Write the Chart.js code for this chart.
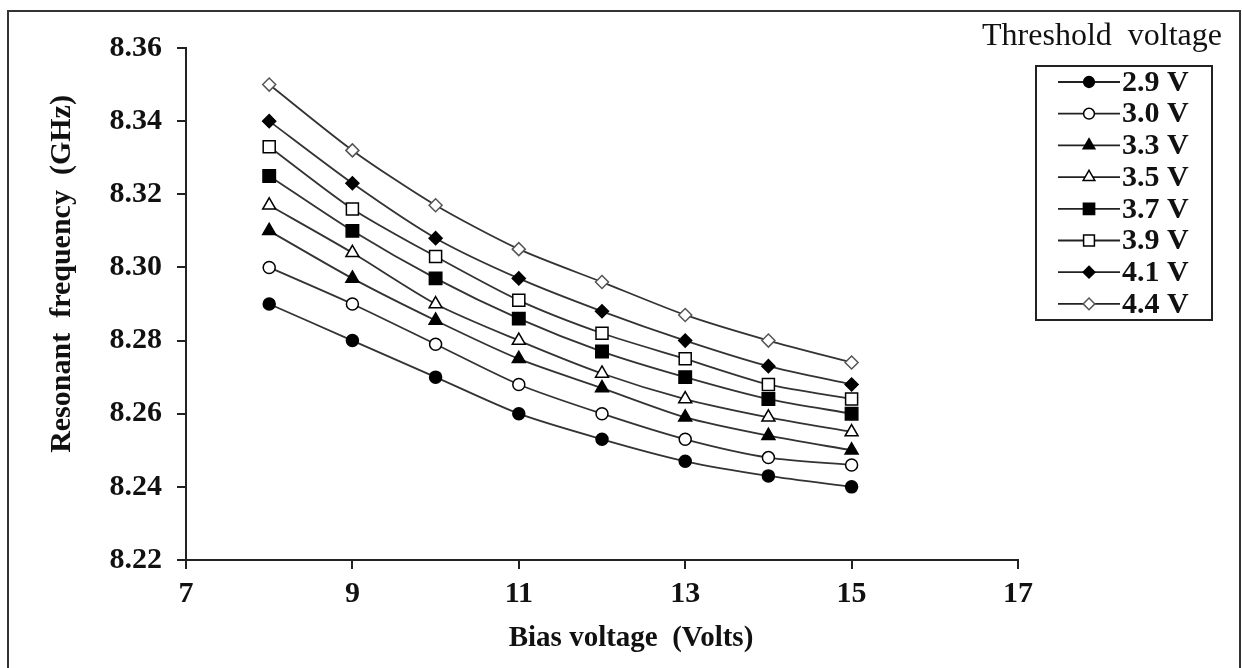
<!DOCTYPE html>
<html>
<head>
<meta charset="utf-8">
<script src="https://cdn.jsdelivr.net/npm/chart.js@4"></script>
<style>
  html, body { margin: 0; padding: 0; background: #fff; }
  #wrap { width: 1242px; height: 668px; }
</style>
</head>
<body>
<div id="wrap"><canvas id="myChart" width="1242" height="668"></canvas></div>
<script>
// bias voltage (x) and resonant frequency (y) per threshold voltage
const biasVoltage = [8, 9, 10, 11, 12, 13, 14, 15];
const thresholdLabels = ['2.9 V', '3.0 V', '3.3 V', '3.5 V', '3.7 V', '3.9 V', '4.1 V', '4.4 V'];
const freq29 = [8.290, 8.280, 8.270, 8.260, 8.253, 8.247, 8.243, 8.240];
const freq30 = [8.300, 8.290, 8.279, 8.268, 8.260, 8.253, 8.248, 8.246];
const freq33 = [8.310, 8.297, 8.2855, 8.275, 8.267, 8.259, 8.254, 8.250];
const freq35 = [8.317, 8.304, 8.290, 8.280, 8.271, 8.264, 8.259, 8.255];
const freq37 = [8.325, 8.310, 8.297, 8.286, 8.277, 8.270, 8.264, 8.260];
const freq39 = [8.333, 8.316, 8.303, 8.291, 8.282, 8.275, 8.268, 8.264];
const freq41 = [8.340, 8.323, 8.308, 8.297, 8.288, 8.280, 8.273, 8.268];
const freq44 = [8.350, 8.332, 8.317, 8.305, 8.296, 8.287, 8.280, 8.274];
const xTicks = [7, 9, 11, 13, 15, 17];
const yTicks = [8.22, 8.24, 8.26, 8.28, 8.30, 8.32, 8.34, 8.36];

const allFreq = [freq29, freq30, freq33, freq35, freq37, freq39, freq41, freq44];
// marker look for each series: [pointStyle, fill, radius, border]
const markers = [
  ['circle', '#000', 6, '#000'],
  ['circle', '#fff', 6, '#000'],
  ['triangle', '#000', 7.5, '#000'],
  ['triangle', '#fff', 7.5, '#000'],
  ['rect', '#000', 8.8, '#000'],
  ['rect', '#fff', 8.5, '#000'],
  ['rectRot', '#000', 6.5, '#000'],
  ['rectRot', '#fff', 6.5, '#555']
];

const FONT = "'Liberation Serif', 'Times New Roman', serif";

const datasets = allFreq.map((vals, i) => ({
  label: thresholdLabels[i],
  data: vals.map((v, j) => ({ x: biasVoltage[j], y: v })),
  borderColor: '#333',
  borderWidth: 1.8,
  tension: 0.25,
  pointStyle: markers[i][0],
  pointBackgroundColor: markers[i][1],
  pointRadius: markers[i][2],
  pointBorderColor: markers[i][3],
  pointBorderWidth: 1.5
}));

function drawMarker(ctx, style, x, y, r) {
  ctx.beginPath();
  if (style === 'circle') {
    ctx.arc(x, y, r, 0, Math.PI * 2);
  } else if (style === 'triangle') {
    ctx.moveTo(x, y - r);
    ctx.lineTo(x + r * 0.866, y + r * 0.5);
    ctx.lineTo(x - r * 0.866, y + r * 0.5);
  } else if (style === 'rect') {
    const s = r * Math.SQRT1_2;
    ctx.rect(x - s, y - s, 2 * s, 2 * s);
  } else {
    ctx.moveTo(x, y - r);
    ctx.lineTo(x + r, y);
    ctx.lineTo(x, y + r);
    ctx.lineTo(x - r, y);
  }
  ctx.closePath();
  ctx.fill();
  ctx.stroke();
}

const framePlugin = {
  id: 'frame',
  beforeDraw(chart) {
    const c = chart.ctx;
    c.save();
    c.fillStyle = '#fff';
    c.fillRect(0, 0, chart.width, chart.height);
    c.strokeStyle = '#333';
    c.lineWidth = 2;
    c.beginPath();
    c.moveTo(8, 668);
    c.lineTo(8, 11);
    c.lineTo(1240, 11);
    c.lineTo(1240, 668);
    c.stroke();
    c.restore();
  }
};

const legendBox = {
  id: 'legendBox',
  afterDraw(chart) {
    const c = chart.ctx;
    c.save();
    c.fillStyle = '#111';
    c.font = '32px ' + FONT;
    c.textAlign = 'right';
    c.textBaseline = 'middle';
    c.fillText('Threshold  voltage', 1222, 37);

    c.strokeStyle = '#222';
    c.lineWidth = 2;
    c.strokeRect(1036, 66, 176, 254);

    c.font = 'bold 30px ' + FONT;
    c.textAlign = 'left';
    chart.data.datasets.forEach((ds, i) => {
      const y = 82 + i * 31.7;
      c.strokeStyle = '#222';
      c.lineWidth = 1.8;
      c.beginPath();
      c.moveTo(1058, y);
      c.lineTo(1120, y);
      c.stroke();
      c.fillStyle = ds.pointBackgroundColor;
      c.strokeStyle = ds.pointBorderColor;
      c.lineWidth = 1.5;
      drawMarker(c, ds.pointStyle, 1089, y, ds.pointRadius * 0.9);
      c.fillStyle = '#111';
      c.fillText(ds.label, 1122, y + 1);
    });
    c.restore();
  }
};

const ctx = document.getElementById('myChart').getContext('2d');
const myChart = new Chart(ctx, {
  type: 'line',
  data: { datasets: datasets },
  options: {
    responsive: false,
    animation: false,
    layout: { padding: { top: 48, right: 224, left: 0, bottom: 0 } },
    plugins: { legend: { display: false }, tooltip: { enabled: false } },
    scales: {
      x: {
        type: 'linear',
        min: 7,
        max: 17,
        afterBuildTicks: (s) => { s.ticks = xTicks.map(v => ({ value: v })); },
        afterFit: (s) => { s.height = 108; s.paddingLeft = 0; s.paddingRight = 0; },
        ticks: { color: '#111', font: { family: FONT, size: 30, weight: 'bold' }, padding: 7 },
        grid: { drawOnChartArea: false, drawTicks: true, tickLength: 9, color: '#222', lineWidth: 2 },
        border: { display: true, color: '#222', width: 2 },
        title: {
          display: true,
          text: '        Bias voltage  (Volts)',
          color: '#111',
          font: { family: FONT, size: 29, weight: 'bold' },
          padding: { top: 0, bottom: 12 }
        }
      },
      y: {
        type: 'linear',
        min: 8.22,
        max: 8.36,
        afterBuildTicks: (s) => { s.ticks = yTicks.map(v => ({ value: v })); },
        afterFit: (s) => { s.width = 186; s.paddingTop = 0; s.paddingBottom = 0; },
        ticks: {
          color: '#111',
          font: { family: FONT, size: 30, weight: 'bold' },
          padding: 15,
          callback: (v) => Number(v).toFixed(2)
        },
        grid: { drawOnChartArea: false, drawTicks: true, tickLength: 9, color: '#222', lineWidth: 2 },
        border: { display: true, color: '#222', width: 2 },
        title: {
          display: true,
          text: '        Resonant  frequency  (GHz)',
          color: '#111',
          font: { family: FONT, size: 30, weight: 'bold' },
          padding: { top: 44, bottom: 0 }
        }
      }
    }
  },
  plugins: [framePlugin, legendBox]
});
</script>
</body>
</html>
